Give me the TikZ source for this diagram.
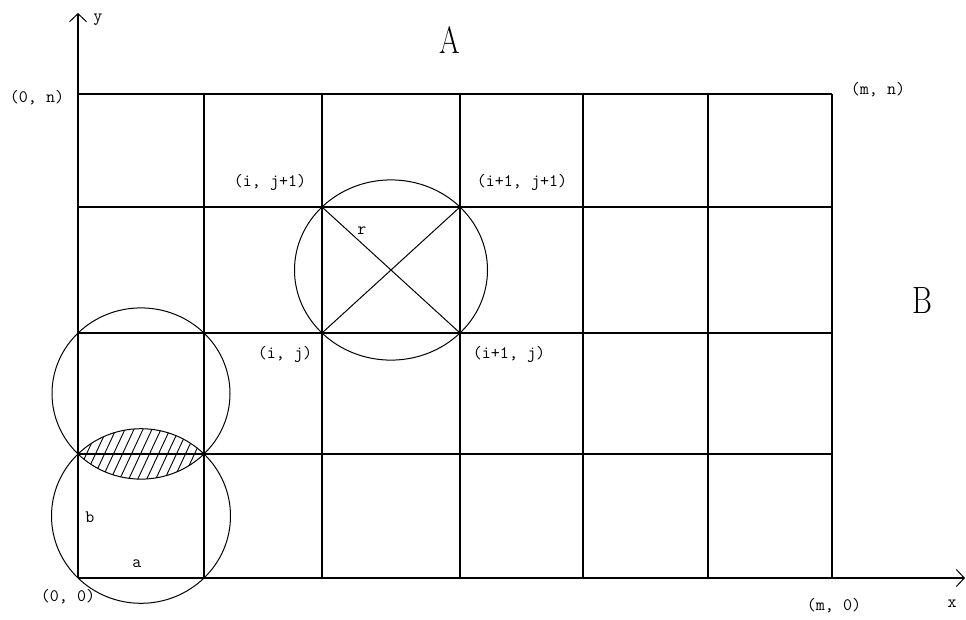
\documentclass[tikz,border=0pt]{standalone}
\usepackage{graphicx}
\usetikzlibrary{arrows.meta}
\begin{document}
\begin{tikzpicture}[x=1pt,y=-1pt,
  gridline/.style={line width=1.6pt},
  circ/.style={line width=1pt},
  hatch/.style={line width=0.9pt},
  lbl/.style={font=\ttfamily\fontsize{17.5}{17.5}\selectfont, inner sep=0pt},
  big/.style={font=\fontsize{38}{38}\selectfont, inner sep=0pt},
  axis/.style={line width=1.4pt, -{Straight Barb[length=8pt,width=17pt,line width=1pt]}}
]
\useasboundingbox (0,0) rectangle (966,619);
% grid
\foreach \x in {78,204,322,460,583,708,832} \draw[gridline] (\x,94) -- (\x,578);
\foreach \y in {94,207,333,454,578} \draw[gridline] (78,\y) -- (832,\y);
% axes
\coordinate (O) at (78,578);
\coordinate (xend) at (965,578);
\coordinate (yend) at (78,13);
\draw[axis] (O) -- (xend);
\draw[axis] (O) -- (yend);
% circle around cell (i,j)
\coordinate (ij) at (322,333);
\coordinate (i1j) at (460,333);
\coordinate (ij1) at (322,207);
\coordinate (i1j1) at (460,207);
\draw[circ] (391,270) ellipse [x radius=96.5pt, y radius=90.1pt];
\draw[circ] (ij1) -- (i1j);
\draw[circ] (ij) -- (i1j1);
% two circles bottom-left
\draw[circ] (141,393.5) ellipse [x radius=89pt, y radius=85.6pt];
\draw[circ] (141,516) ellipse [x radius=89.5pt, y radius=87.3pt];
\begin{scope}
  \clip (141,393.5) ellipse [x radius=89pt, y radius=85.6pt];
  \clip (141,516) ellipse [x radius=89.5pt, y radius=87.3pt];
  \foreach \x in {20,29,...,230} \draw[hatch] (\x,500) -- (\x+42,410);
\end{scope}
% labels
\node[lbl] (l0n) at (37,98) {(0, n)};
\node[lbl] (lmn) at (878,90) {(m, n)};
\node[lbl] (lij1) at (270,182) {(i, j+1)};
\node[lbl] (li1j1) at (522,182) {(i+1, j+1)};
\node[lbl] (lij) at (285,354) {(i, j)};
\node[lbl] (li1j) at (509,354) {(i+1, j)};
\node[lbl] (lr) at (362,231) {r};
\node[lbl] (l00) at (68,597) {(0, 0)};
\node[lbl] (lm0) at (834,606) {(m, 0)};
\node[lbl] (lx) at (952,604) {x};
\node[lbl] (ly) at (98,20) {y};
\node[lbl] (lb) at (90,517) {b};
\node[lbl] (la) at (137,564) {a};
\node[big] (lA) at (450,40) {\scalebox{0.78}[1]{A}};
\node[big] (lB) at (922,301) {\scalebox{0.8}[1]{B}};
\end{tikzpicture}
\end{document}
